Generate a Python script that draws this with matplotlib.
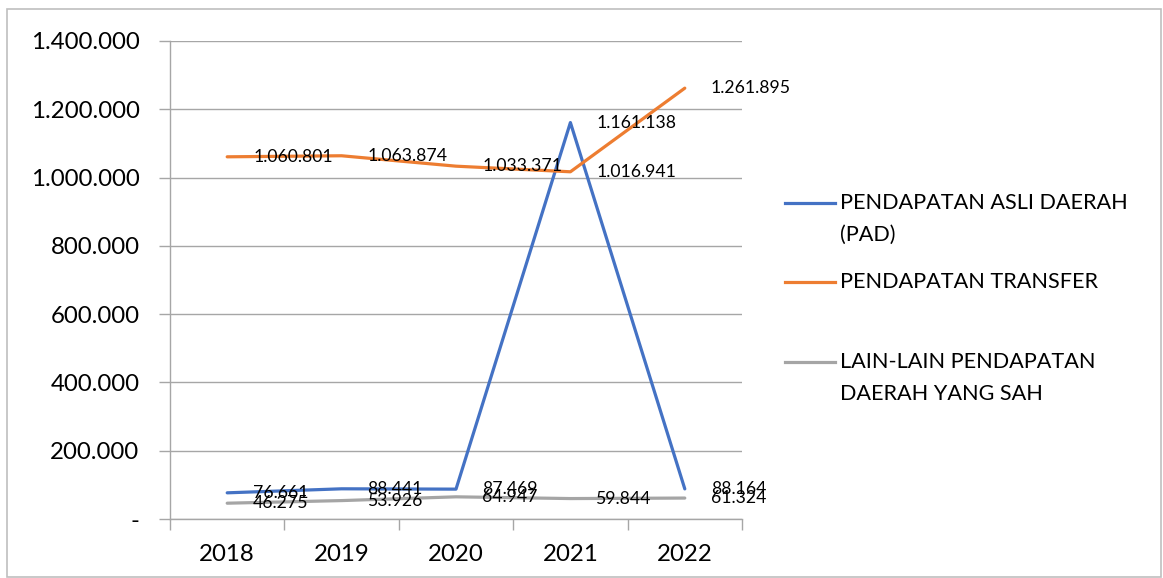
import matplotlib.pyplot as plt
import numpy as np
from matplotlib.lines import Line2D
from matplotlib.patches import Rectangle

plt.rcParams['font.family'] = ['Lato', 'DejaVu Sans']

# data (ribu rupiah)
years = ["2018", "2019", "2020", "2021", "2022"]
pad = [76661, 88441, 87469, 1161138, 88164]
transfer = [1060801, 1063874, 1033371, 1016941, 1261895]
lain_lain = [46275, 53926, 64947, 59844, 61324]

series_names = ["PENDAPATAN ASLI DAERAH\n(PAD)",
                "PENDAPATAN TRANSFER",
                "LAIN-LAIN PENDAPATAN\nDAERAH YANG SAH"]
colors = ["#4472C4", "#ED7D31", "#A5A5A5"]
grid_color = "#A6A6A6"


def fmt_num(v):
    if v == 0:
        return "-"
    return f"{v:,.0f}".replace(",", ".")


W, H = 1163, 578
fig = plt.figure(figsize=(W / 100, H / 100), dpi=100)
fig.patches.append(Rectangle((7 / W, 1 / H), (W - 9) / W, (H - 10) / H,
                             transform=fig.transFigure, fill=False,
                             edgecolor="#BFBFBF", linewidth=1.2))

ax = fig.add_axes([170 / W, 1 - 519 / H, (742 - 170) / W, (519 - 41) / H])
x = np.arange(len(years)) + 0.5

for vals, c in zip([pad, transfer, lain_lain], colors):
    ax.plot(x, vals, color=c, linewidth=2.3, solid_capstyle="round", zorder=3)
    for xi, v in zip(x, vals):
        ax.annotate(fmt_num(v), (xi, v), xytext=(26, 0), textcoords="offset pixels",
                    ha="left", va="center", fontsize=12.7, color="#000000", zorder=4)

ax.set_xlim(0, len(years))
ax.set_ylim(0, 1400000)
yt = np.arange(0, 1400001, 200000)
ax.set_yticks(yt)
ax.set_yticklabels([fmt_num(v) for v in yt], fontsize=17.3)
ax.set_xticks(np.arange(len(years) + 1))
ax.set_xticklabels([])
ax.set_xticks(x, minor=True)
ax.set_xticklabels(years, minor=True, fontsize=17.3)

ax.tick_params(axis="y", length=8, width=1, color=grid_color, pad=14)
ax.tick_params(axis="x", which="major", length=8, width=1, color=grid_color)
ax.tick_params(axis="x", which="minor", length=0, pad=18)

ax.grid(axis="y", color=grid_color, linewidth=1)
ax.set_axisbelow(True)
for s in ["top", "right"]:
    ax.spines[s].set_visible(False)
for s in ["left", "bottom"]:
    ax.spines[s].set_color(grid_color)
    ax.spines[s].set_linewidth(1)

# legend drawn by hand so that the line sits on the first text line
legend_y = [203, 282, 362]
for name, c, ly in zip(series_names, colors, legend_y):
    fy = 1 - ly / H
    fig.add_artist(Line2D([785 / W, 835 / W], [fy, fy], color=c, linewidth=2.3,
                          transform=fig.transFigure))
    for i, line in enumerate(name.split("\n")):
        fig.text(840 / W, 1 - (ly + 32 * i) / H, line, ha="left", va="center",
                 fontsize=15.6)

fig.savefig("out.png", dpi=100)
